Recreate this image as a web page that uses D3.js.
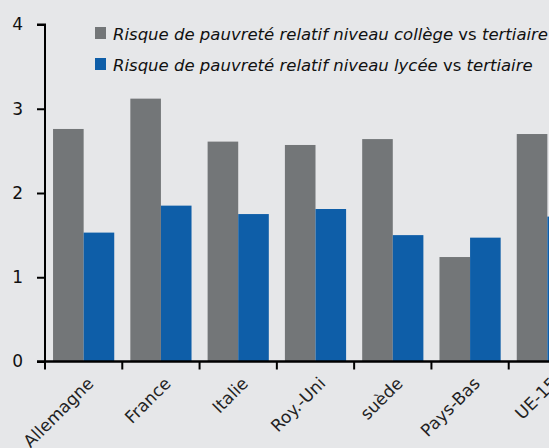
<!DOCTYPE html>
<html><head><meta charset="utf-8">
<script src="https://cdn.jsdelivr.net/npm/d3@7"></script>
<style>body{margin:0;background:#e6e7e9;}svg{display:block;}</style>
</head><body>
<script>
const categories = ["Allemagne","France","Italie","Roy.-Uni","suède","Pays-Bas","UE-15"];
const seriesNames = ["Risque de pauvreté relatif niveau collège", "Risque de pauvreté relatif niveau lycée"];
const college = [2.76, 3.12, 2.61, 2.57, 2.64, 1.24, 2.70];
const lycee = [1.53, 1.85, 1.75, 1.81, 1.50, 1.47, 1.72];
const yTicks = [0,1,2,3,4];
const colors = ["#737678", "#0e5ea8"];
const FONT = "DejaVu Sans, Verdana, sans-serif";

const W = 549, H = 448;
const svg = d3.select("body").append("svg").attr("width", W).attr("height", H);
svg.append("rect").attr("width", W).attr("height", H).attr("fill", "#e6e7e9");

const x0 = d3.scaleBand().domain(categories).range([45, 586]).paddingInner(0).paddingOuter(0);
const x1 = d3.scaleBand().domain([0,1]).range([0, x0.bandwidth()]).paddingInner(0).paddingOuter(0.263);
const y = d3.scaleLinear().domain([0,4]).range([361.5, 24.5]);

const data = categories.map((c,i)=>({c, v:[college[i], lycee[i]]}));
const g = svg.append("g");
data.forEach(d=>{
  d.v.forEach((v,k)=>{
    g.append("rect")
      .attr("x", x0(d.c) + x1(k))
      .attr("width", x1.bandwidth())
      .attr("y", y(v))
      .attr("height", y(0) - y(v))
      .attr("fill", colors[k]);
  });
});

// Y axis
const yAxis = d3.axisLeft(y).tickValues(yTicks).tickSize(8).tickPadding(14).tickFormat(d3.format("d"));
const ya = svg.append("g").attr("transform","translate(45,0)").call(yAxis);
ya.select(".domain").attr("stroke","#000").attr("stroke-width",2).attr("d","M-8,24.5H0V361.5");
ya.selectAll(".tick line").attr("stroke","#000").attr("stroke-width",2);
ya.selectAll(".tick text").attr("font-family",FONT).attr("font-size",17).attr("fill","#111");

// X axis
const xAxis = d3.axisBottom(x0).tickSize(0).tickFormat(d=>d);
const xa = svg.append("g").attr("transform","translate(0,361.5)").call(xAxis);
xa.select(".domain").attr("stroke","#000").attr("stroke-width",2.5).attr("d","M37,0H586");
xa.selectAll(".tick text")
  .attr("font-family",FONT).attr("font-size",17).attr("fill","#222")
  .attr("text-anchor","end").attr("dy",0).attr("y",0)
  .attr("transform","translate(11,23) rotate(-45)");
// boundary ticks
const bounds = categories.map(c=>x0(c)).concat([x0.range()[1]]);
xa.selectAll(".bt").data(bounds).enter().append("line")
  .attr("x1",d=>d).attr("x2",d=>d).attr("y1",0).attr("y2",8)
  .attr("stroke","#000").attr("stroke-width",2);

// Legend
const leg = svg.append("g").attr("font-family",FONT).attr("font-size",16.5);
seriesNames.forEach((s,i)=>{
  const yy = 27 + i*31;
  leg.append("rect").attr("x",95).attr("y",yy).attr("width",11).attr("height",12).attr("fill",colors[i]);
  const t = leg.append("text").attr("x",113).attr("y",yy+13).attr("fill","#111");
  t.append("tspan").attr("font-style","italic").text(s);
  t.append("tspan").text(" vs ");
  t.append("tspan").attr("font-style","italic").text("tertiaire");
});
</script>
</body></html>
